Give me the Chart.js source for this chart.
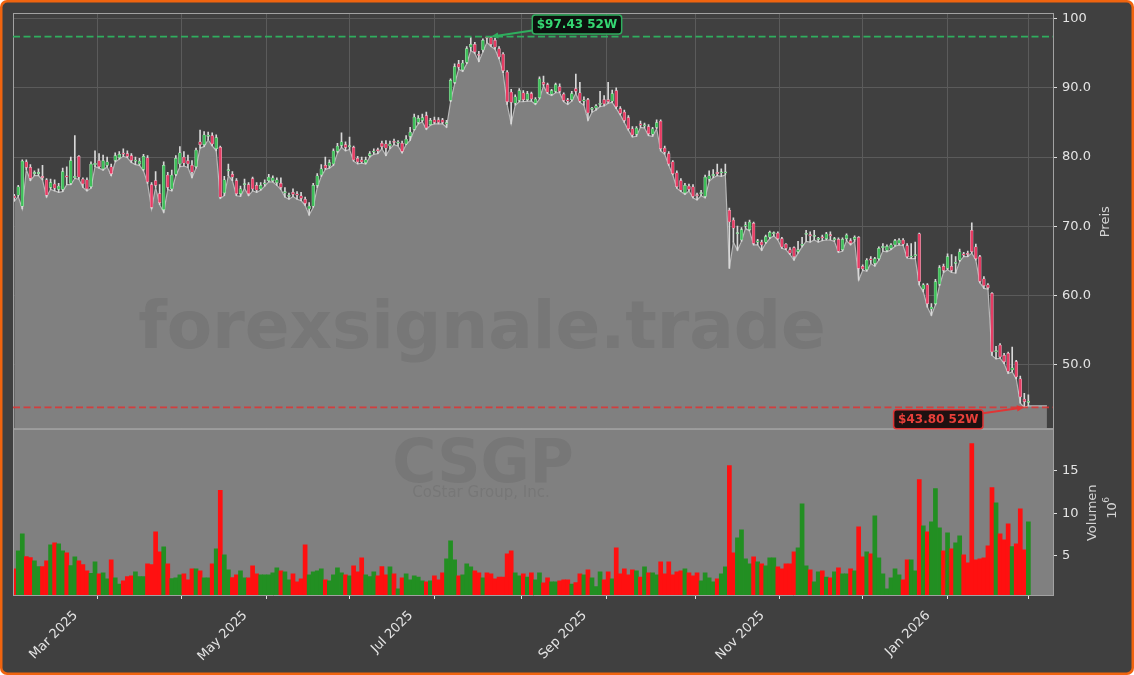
<!DOCTYPE html>
<html>
<head>
<meta charset="utf-8">
<title>CSGP 52W</title>
<script src="https://cdn.jsdelivr.net/npm/chart.js@4.4.1/dist/chart.umd.min.js"></script>
<style>
  html, body { margin: 0; padding: 0; background: #404040; }
  canvas { display: block; }
</style>
</head>
<body>
<canvas id="chart" width="1134" height="675"></canvas>
<script>
// ==================== Data ====================
// one entry per trading day, Feb 2025 .. Feb 2026
const opens = [
  74.4,74.5,72.9,79.3,78.5,77.6,77.6,77.2,76.7,75.6, 76.1,75.3,75.3,77.2,76.2,77.0,80.1,76.8,76.7,75.7,
  78.9,79.5,78.3,78.8,78.6,79.5,79.9,80.5,80.5,80.2, 79.4,79.0,78.2,79.9,76.0,76.6,74.7,72.4,77.4,75.4,
  77.5,79.0,80.0,79.5,78.8,78.6,82.2,81.8,83.0,83.1, 81.2,81.4,74.8,78.0,77.5,76.6,74.7,76.0,76.0,76.9,
  75.9,75.4,76.1,76.6,76.6,76.3,76.2,74.8,74.3,74.9, 74.6,74.4,73.9,72.5,72.9,75.9,77.4,78.8,78.7,79.0,
  80.8,81.7,81.8,81.5,81.4,79.8,79.6,79.2,80.2,80.7, 81.0,82.0,81.9,81.6,82.2,82.0,82.0,81.9,83.0,84.0,
  85.0,85.3,86.0,84.7,85.4,85.4,85.4,84.8,88.2,90.8, 93.5,92.6,93.7,95.9,96.3,94.8,95.5,97.3,97.3,96.9,
  95.7,94.9,92.3,89.4,87.8,88.2,89.3,88.3,89.2,87.8, 88.6,90.8,90.5,89.1,89.5,90.2,89.1,88.2,88.3,89.9,
  89.3,88.1,88.3,86.9,87.1,87.6,88.3,88.3,88.1,89.6, 87.0,86.5,85.7,84.1,83.3,84.8,84.5,84.4,83.3,84.3,
  85.2,81.3,80.5,79.3,77.7,76.6,74.8,75.8,75.7,74.5, 74.7,74.3,76.8,77.3,77.8,77.7,77.7,72.3,70.9,68.9,
  68.0,70.0,69.5,70.4,67.7,67.7,67.7,68.4,68.9,69.0, 68.2,67.4,66.6,66.9,66.3,67.2,68.8,68.7,68.5,68.1,
  68.4,68.2,68.7,68.0,68.1,66.6,68.2,67.9,68.1,68.4, 64.2,63.7,65.2,64.6,65.3,66.9,66.5,66.8,67.3,67.5,
  68.0,67.2,65.5,65.7,68.9,60.9,61.5,58.0,58.8,61.6, 64.2,63.9,64.2,64.6,65.1,66.0,66.0,69.4,67.0,65.6,
  62.4,61.5,60.3,51.8,52.8,51.3,51.6,49.2,50.4,47.9, 45.0,44.5
];
const highs = [
  74.6,75.9,79.6,79.6,78.9,78.0,78.3,78.8,76.9,76.8, 76.7,76.2,78.4,78.6,80.0,83.1,80.2,77.0,77.0,79.3,
  80.9,80.5,80.3,80.0,79.0,80.6,80.8,81.2,80.9,80.5, 80.0,79.8,80.4,80.2,76.3,77.9,76.0,79.3,77.8,78.1,
  80.2,81.5,80.8,80.3,79.5,81.3,83.9,83.7,83.6,83.5, 83.2,81.6,77.2,79.0,77.9,76.9,75.8,76.8,76.3,77.1,
  76.3,76.3,76.7,77.5,77.3,77.0,77.0,75.6,74.8,75.4, 75.0,74.9,74.2,73.4,76.2,77.6,78.9,80.0,79.6,81.2,
  82.0,83.5,82.2,82.9,81.6,80.1,80.0,80.0,80.8,81.2, 81.3,82.3,82.4,82.3,82.6,82.4,82.3,83.1,84.3,86.2,
  86.0,86.2,86.5,85.6,85.8,85.7,85.6,85.3,91.3,93.5, 94.0,94.0,96.0,97.3,96.6,95.3,97.1,97.4,97.43,97.2,
  96.0,95.1,92.5,89.8,89.0,89.9,89.6,89.5,89.4,88.6, 91.6,91.7,90.7,89.8,90.7,90.6,89.3,88.5,89.5,92.0,
  90.8,88.7,88.5,87.2,87.6,89.5,88.9,90.8,89.7,90.0, 87.3,86.8,86.0,84.4,84.4,85.2,84.9,84.7,84.3,85.4,
  85.4,81.6,80.8,79.5,78.0,76.9,76.2,76.1,76.0,74.8, 75.2,77.4,78.0,78.2,79.0,78.3,79.0,72.6,71.2,70.0,
  69.8,70.6,70.9,70.6,68.1,68.0,68.7,69.3,69.2,69.2, 68.4,67.5,66.9,67.0,67.8,68.4,69.4,69.2,69.4,68.4,
  68.7,69.1,69.2,68.4,68.3,68.3,68.9,68.2,68.6,68.5, 64.4,65.3,65.6,65.5,67.0,67.5,67.3,67.5,68.1,68.2,
  68.2,67.5,67.5,67.7,69.0,61.7,61.7,58.8,62.3,64.3, 64.5,66.0,65.9,65.6,66.7,66.2,66.4,70.5,67.4,65.8,
  62.7,61.7,60.4,52.6,53.0,51.6,51.8,52.5,50.6,48.3, 45.8,45.6
];
const lows = [
  73.6,74.3,72.5,78.2,76.6,77.3,77.3,76.7,74.2,75.3, 75.1,74.9,75.0,76.0,76.0,76.9,76.8,75.6,75.1,75.5,
  78.6,78.4,78.1,78.6,77.3,79.3,79.7,80.1,79.9,79.2, 78.9,78.8,78.0,76.2,72.5,75.6,73.1,72.0,75.3,75.1,
  77.3,78.6,78.7,78.5,77.0,78.4,81.3,81.5,82.5,81.6, 80.9,74.0,74.4,77.3,76.6,74.4,74.3,75.5,74.4,75.1,
  74.9,75.2,75.8,76.4,76.4,75.9,75.3,74.2,73.9,74.3, 73.9,73.7,73.0,71.6,72.7,75.6,77.2,78.2,78.4,78.8,
  80.6,81.4,80.9,81.1,79.4,79.0,79.1,79.0,80.0,80.4, 80.5,81.2,80.2,81.2,81.8,81.6,80.6,81.8,82.4,83.9,
  84.8,85.1,84.0,84.6,84.8,84.8,84.8,84.3,88.0,90.6, 92.7,92.4,93.5,95.4,95.0,93.8,95.2,96.6,96.0,95.6,
  94.2,92.2,87.6,84.8,87.5,88.0,88.0,88.1,88.1,87.6, 88.4,90.3,89.2,88.9,89.3,89.3,88.0,87.6,88.1,89.2,
  87.9,87.5,85.3,86.5,86.8,87.3,87.4,87.8,87.9,87.0, 86.1,85.0,83.9,82.9,83.0,84.3,84.2,83.1,83.0,84.1,
  80.9,80.4,78.8,77.4,75.5,75.0,74.6,75.1,74.1,73.8, 74.4,74.1,76.5,77.0,77.3,77.2,77.4,63.9,67.7,66.5,
  67.8,69.7,69.3,67.3,67.3,66.5,67.5,68.2,68.6,68.0, 66.8,66.6,65.9,65.1,66.1,67.0,67.8,67.7,68.0,67.7,
  67.9,68.0,68.0,67.8,66.2,66.4,67.9,67.3,67.8,62.2, 63.6,63.5,64.6,64.2,65.1,66.4,66.3,66.6,67.1,67.3,
  67.2,65.4,65.3,65.3,61.5,60.5,58.3,57.1,58.6,61.4, 63.3,63.7,63.3,63.2,64.9,65.6,65.6,66.1,65.1,61.8,
  61.0,60.9,51.3,50.8,50.9,50.1,48.7,48.9,47.9,44.4, 43.8,44.0
];
const closes = [
  74.1,75.7,79.4,78.5,76.9,77.7,77.7,77.0,74.5,76.3, 75.5,75.8,77.9,77.1,79.5,77.2,77.1,76.1,75.4,79.0,
  79.1,78.6,79.5,79.3,77.6,80.2,80.4,80.4,80.1,79.5, 79.5,79.4,80.1,76.4,72.7,75.9,73.4,78.8,75.6,77.4,
  79.8,80.6,79.1,79.0,77.8,81.0,81.8,83.2,83.1,81.9, 82.8,74.2,76.7,78.1,77.1,74.7,75.4,76.1,74.7,75.4,
  75.2,75.9,76.2,77.1,77.0,76.7,75.6,75.0,74.4,74.6, 74.5,74.0,73.3,72.9,75.9,77.3,78.3,78.4,79.2,80.9,
  81.6,82.2,81.4,81.6,79.6,79.3,79.3,79.6,80.5,80.8, 80.9,81.5,81.3,81.9,82.1,82.1,80.8,82.6,83.6,85.8,
  85.6,85.7,84.2,85.3,85.0,85.0,85.0,84.9,91.1,93.1, 93.0,93.6,95.7,96.3,95.2,94.7,96.9,97.2,96.3,95.9,
  94.5,92.5,88.0,87.9,88.7,89.6,88.3,89.2,88.4,88.4, 91.3,90.5,89.4,89.6,90.5,89.5,88.2,88.1,89.2,89.5,
  88.1,88.2,86.4,87.0,87.4,87.7,87.7,88.0,89.2,87.3, 86.3,85.3,84.1,83.2,84.2,84.6,84.6,83.4,84.1,85.0,
  81.2,80.7,79.0,77.6,75.7,75.2,75.9,75.3,74.3,74.4, 74.8,77.1,77.3,77.5,77.6,77.8,77.8,70.6,69.7,69.0,
  69.5,70.2,70.6,67.5,67.8,67.3,68.5,69.1,68.9,68.2, 67.0,66.8,66.1,65.6,66.6,67.4,68.9,68.6,68.6,68.2,
  68.3,68.9,68.6,68.2,66.4,68.1,68.7,67.5,68.4,63.9, 63.8,65.1,65.1,65.3,66.8,67.0,67.1,67.3,67.9,68.0,
  67.4,65.6,65.6,65.9,62.0,61.5,58.8,58.3,62.0,64.0, 63.6,65.6,63.6,64.8,66.3,65.8,65.9,66.3,65.3,62.0,
  61.4,61.1,51.8,52.0,51.1,50.4,49.0,49.5,48.2,45.3, 44.6,44.7
];
// volume in millions of shares
const volumes = [
  3.48,5.59,7.59,4.93,4.81,4.42,3.76,3.76,4.42,6.30, 6.53,6.41,5.59,5.36,3.87,4.89,4.42,3.99,3.25,2.97,
  4.30,2.90,3.01,2.31,4.54,2.43,1.72,2.08,2.58,2.66, 3.13,2.58,2.58,4.07,3.99,7.82,5.48,6.06,4.07,2.35,
  2.43,2.78,2.90,2.19,3.48,3.48,3.25,2.43,2.43,4.07, 5.83,12.67,5.12,3.37,2.47,2.78,3.25,2.43,2.43,3.83,
  2.90,2.78,2.78,2.78,3.01,3.60,3.25,3.13,2.19,2.90, 1.96,2.31,6.30,2.78,3.13,3.25,3.48,2.19,2.08,2.78,
  3.60,3.01,2.78,2.66,3.83,3.13,4.77,2.78,2.58,3.13, 2.66,3.76,2.78,3.72,2.90,1.14,2.43,2.90,2.19,2.66,
  2.54,2.08,1.96,2.08,2.66,2.19,3.01,4.65,6.77,4.54, 2.66,2.78,4.07,3.72,3.25,3.01,2.43,3.01,2.90,2.31,
  2.54,2.54,5.24,5.59,3.01,2.66,2.90,2.54,3.01,2.19, 3.01,1.84,2.43,1.96,1.96,2.08,2.19,2.19,1.72,1.88,
  2.90,2.78,3.37,2.43,1.41,3.13,2.19,3.13,2.31,5.94, 2.90,3.48,2.78,3.37,3.25,2.54,3.72,3.01,3.01,2.78,
  4.30,2.90,4.30,2.78,3.13,3.25,3.48,3.01,2.66,3.01, 2.08,3.01,2.43,1.96,2.31,2.90,3.72,15.56,5.36,7.12,
  8.05,4.65,4.07,4.89,4.30,4.07,3.83,4.77,4.77,3.72, 3.48,4.07,4.07,5.48,5.94,11.10,3.83,3.37,1.96,3.13,
  3.25,2.54,2.43,3.13,3.60,2.90,2.90,3.48,3.25,8.41, 4.89,5.48,5.24,9.70,4.77,2.90,1.14,2.43,3.48,2.78,
  2.19,4.54,4.54,3.25,13.92,8.52,7.82,8.99,12.86,8.29, 5.59,7.70,5.83,6.53,7.35,5.12,4.19,18.14,4.54,4.65,
  4.77,6.18,12.98,11.22,7.59,6.88,8.76,6.10,6.41,10.52, 5.71,8.99
];

// month starts (trading-day index) and their labels, every other one labelled
const monthTicks  = [10, 31, 52, 73, 93, 115, 136, 157, 180, 199, 221, 241];
const monthLabels = ['Mar 2025', '', 'May 2025', '', 'Jul 2025', '', 'Sep 2025', '', 'Nov 2025', '', 'Jan 2026', ''];
const priceTicks  = [50, 60, 70, 80, 90, 100];
const volumeTicks = [5, 10, 15];

const symbol = 'CSGP';
const companyName = 'CoStar Group, Inc.';
const watermark = 'forexsignale.trade';
const fillPad = 4.6; // low line is carried a few days past the last candle

// ==================== Styles ====================
const BG = '#404040';
const PANEL = '#808080';
const GRID = '#5b5b5b';
const FRAME = '#a2a2a2';
const TXT = '#e4e4e4';
const UP = '#3fbf5a', DOWN = '#e63c64';
const UP_EDGE = 'rgba(215,255,220,0.8)', DOWN_EDGE = 'rgba(255,215,228,0.8)';
const VOL_UP = '#228f22', VOL_DOWN = '#ff1010';
const HI_COL = '#2fae5e', LO_COL = '#e03535';

Chart.defaults.font.family = '"DejaVu Sans", sans-serif';
Chart.defaults.font.size = 13;

const idx = closes.map((_, i) => i);
const isUp = i => closes[i] >= opens[i];
const lowLine = idx.map(i => ({ x: i, y: lows[i] }));
lowLine.push({ x: idx.length - 1 + fillPad, y: lows[lows.length - 1] });

const hiVal = Math.max(...highs), loVal = Math.min(...lows);
const hiIdx = highs.indexOf(hiVal), loIdx = lows.indexOf(loVal);

// ==================== Helpers ====================
function drawArrow(c, x0, y0, x1, y1, color) {
    const a = Math.atan2(y1 - y0, x1 - x0), hl = 8;
    c.strokeStyle = color; c.fillStyle = color; c.lineWidth = 2;
    c.beginPath(); c.moveTo(x0, y0);
    c.lineTo(x1 - Math.cos(a) * hl * 0.8, y1 - Math.sin(a) * hl * 0.8); c.stroke();
    c.beginPath(); c.moveTo(x1, y1);
    c.lineTo(x1 - hl * Math.cos(a - 0.4), y1 - hl * Math.sin(a - 0.4));
    c.lineTo(x1 - hl * Math.cos(a + 0.4), y1 - hl * Math.sin(a + 0.4));
    c.closePath(); c.fill();
}

function drawTag(c, text, tx, ty, dx, dy, edge, fg, bg) {
    c.font = 'bold 12px "DejaVu Sans"';
    const w = c.measureText(text).width + 9, h = 19;
    const cx = tx + dx, cy = ty + dy;
    const sx = cx - Math.sign(dx) * w / 2, sy = cy + (ty - cy) * 0.5;
    drawArrow(c, sx, sy, tx, ty, edge);
    c.beginPath(); c.roundRect(cx - w / 2, cy - h / 2, w, h, 3);
    c.fillStyle = bg; c.fill();
    c.lineWidth = 1.5; c.strokeStyle = edge; c.stroke();
    c.fillStyle = fg; c.textAlign = 'center'; c.textBaseline = 'middle';
    c.fillText(text, cx, cy + 0.5);
}

function dashed(c, y, left, right, color) {
    c.save();
    c.strokeStyle = color; c.lineWidth = 1.8; c.setLineDash([7, 3.5]);
    c.beginPath(); c.moveTo(left, y); c.lineTo(right, y); c.stroke();
    c.restore();
}

// ==================== Plugins ====================
const backdrop = {
    id: 'backdrop',
    beforeDraw(chart) {
        const c = chart.ctx, w = chart.width, h = chart.height;
        c.save();
        c.fillStyle = '#ffffff'; c.fillRect(0, 0, w, h);
        c.fillStyle = '#f0640f'; c.beginPath(); c.roundRect(0, 0, w, h, 7); c.fill();
        c.fillStyle = BG; c.beginPath(); c.roundRect(2.5, 2.5, w - 5, h - 5, 5); c.fill();
        c.restore();
    },
    beforeDatasetsDraw(chart) {
        const c = chart.ctx, a = chart.chartArea, yv = chart.scales.yv;
        c.save();
        c.fillStyle = PANEL;
        c.fillRect(a.left, yv.top, a.right - a.left, yv.bottom - yv.top);
        c.restore();
    },
    afterDatasetDraw(chart, args) {
        if (args.index !== 0) return;
        const c = chart.ctx;
        c.save();
        c.fillStyle = 'rgba(40,40,40,0.10)';
        c.textAlign = 'center'; c.textBaseline = 'alphabetic';
        c.font = 'bold 66px "DejaVu Sans"';
        c.fillText(watermark, 482, 348);
        c.font = 'bold 60px "DejaVu Sans"';
        c.fillText(symbol, 483, 482);
        c.font = '15px "DejaVu Sans"';
        c.fillText(companyName, 481, 497);
        c.restore();
    },
    afterDatasetsDraw(chart) {
        const c = chart.ctx, a = chart.chartArea;
        const x = chart.scales.x, y = chart.scales.y, yv = chart.scales.yv;
        c.save();
        // panel frames
        c.strokeStyle = FRAME; c.lineWidth = 1;
        c.strokeRect(a.left + 0.5, a.top + 0.5, a.right - a.left, y.bottom - a.top);
        c.lineWidth = 1.5;
        c.beginPath(); c.moveTo(a.left, y.bottom + 0.5); c.lineTo(a.right, y.bottom + 0.5); c.stroke();
        c.lineWidth = 1;
        c.beginPath(); c.moveTo(a.left + 0.5, yv.top); c.lineTo(a.left + 0.5, yv.bottom); c.stroke();

        // 52 week high / low
        const yHi = y.getPixelForValue(hiVal), yLo = y.getPixelForValue(loVal);
        dashed(c, yHi, a.left, a.right, HI_COL);
        dashed(c, yLo, a.left, a.right, 'rgba(225,50,50,0.85)');
        drawTag(c, '$' + hiVal.toFixed(2) + ' 52W', x.getPixelForValue(hiIdx), yHi, 86, -12,
                HI_COL, '#35d873', 'rgba(8,14,10,0.92)');
        drawTag(c, '$' + loVal.toFixed(2) + ' 52W', x.getPixelForValue(loIdx), yLo, -86, 12,
                LO_COL, '#e8403a', 'rgba(22,8,8,0.92)');

        // axis titles
        c.fillStyle = '#d4d4d4'; c.textAlign = 'center'; c.textBaseline = 'middle';
        c.font = '13px "DejaVu Sans"';
        c.save(); c.translate(y.left + 53, (y.top + y.bottom) / 2 + 1); c.rotate(-Math.PI / 2);
        c.fillText('Preis', 0, 0); c.restore();
        c.save(); c.translate(yv.left + 40, (yv.top + yv.bottom) / 2 + 1); c.rotate(-Math.PI / 2);
        c.fillText('Volumen', 0, 0); c.restore();
        c.save(); c.translate(yv.left + 60, (yv.top + yv.bottom) / 2 - 4); c.rotate(-Math.PI / 2);
        c.textAlign = 'left';
        c.fillText('10', -11, 0);
        c.font = '9px "DejaVu Sans"'; c.fillText('6', 5, -6);
        c.restore();
        c.restore();
    }
};

// ==================== Chart ====================
new Chart(document.getElementById('chart'), {
    type: 'bar',
    data: {
        datasets: [
            { type: 'line', label: 'Low', data: lowLine, yAxisID: 'y',
              borderColor: '#b8b8b8', borderWidth: 1.2, backgroundColor: PANEL,
              fill: 'start', pointRadius: 0, tension: 0, order: 10 },
            { label: 'Docht', data: idx.map(i => ({ x: i, y: [lows[i], highs[i]] })), yAxisID: 'y',
              backgroundColor: '#d8d8d8', barThickness: 1, grouped: false, order: 5 },
            { label: 'Kerze', data: idx.map(i => ({ x: i, y: [opens[i], closes[i]] })), yAxisID: 'y',
              backgroundColor: idx.map(i => isUp(i) ? UP : DOWN),
              borderColor: idx.map(i => isUp(i) ? UP_EDGE : DOWN_EDGE),
              borderWidth: 0.5, borderSkipped: false, barThickness: 2.8, minBarLength: 1.2,
              grouped: false, order: 4 },
            { label: 'Volumen', data: idx.map(i => ({ x: i, y: volumes[i] })), yAxisID: 'yv',
              backgroundColor: idx.map(i => isUp(i) ? VOL_UP : VOL_DOWN),
              barPercentage: 1, categoryPercentage: 1, grouped: false, order: 3 }
        ]
    },
    options: {
        responsive: false,
        animation: false,
        devicePixelRatio: 1,
        layout: { padding: { left: 13, top: 13, right: 0, bottom: 0 } },
        plugins: { legend: { display: false }, tooltip: { enabled: false } },
        scales: {
            x: {
                type: 'linear', min: -0.3, max: 257.1, offset: false,
                grid: { color: GRID, tickLength: 4, tickColor: '#e0e0e0' },
                border: { color: FRAME },
                ticks: {
                    autoSkip: false, minRotation: 45, maxRotation: 45,
                    labelOffset: 21, padding: 9, color: TXT,
                    callback: v => { const k = monthTicks.indexOf(v); return k >= 0 ? monthLabels[k] : ''; }
                },
                afterBuildTicks: s => { s.ticks = monthTicks.map(v => ({ value: v })); },
                afterFit: s => { s.height = 80; s.paddingLeft = 0; s.paddingRight = 0; }
            },
            y: {
                type: 'linear', position: 'right', stack: 'panels', stackWeight: 415.5,
                min: 40.73, max: 100.84,
                grid: { color: GRID, tickLength: 4, tickColor: '#e0e0e0' },
                border: { color: FRAME },
                ticks: { color: TXT, padding: 5, callback: v => v === 100 ? '100' : v.toFixed(1) },
                afterBuildTicks: s => { s.ticks = priceTicks.map(v => ({ value: v })); },
                afterFit: s => { s.width = 81; s.paddingTop = 0; s.paddingBottom = 0; }
            },
            yv: {
                type: 'linear', position: 'right', stack: 'panels', stackWeight: 166.5,
                min: 0.43, max: 19.9,
                grid: { drawOnChartArea: false, tickLength: 4, tickColor: '#e0e0e0' },
                border: { color: FRAME },
                ticks: { color: TXT, padding: 5, callback: v => String(v) },
                afterBuildTicks: s => { s.ticks = volumeTicks.map(v => ({ value: v })); },
                afterFit: s => { s.width = 81; s.paddingTop = 0; s.paddingBottom = 0; }
            }
        }
    },
    plugins: [backdrop]
});
</script>
</body>
</html>
